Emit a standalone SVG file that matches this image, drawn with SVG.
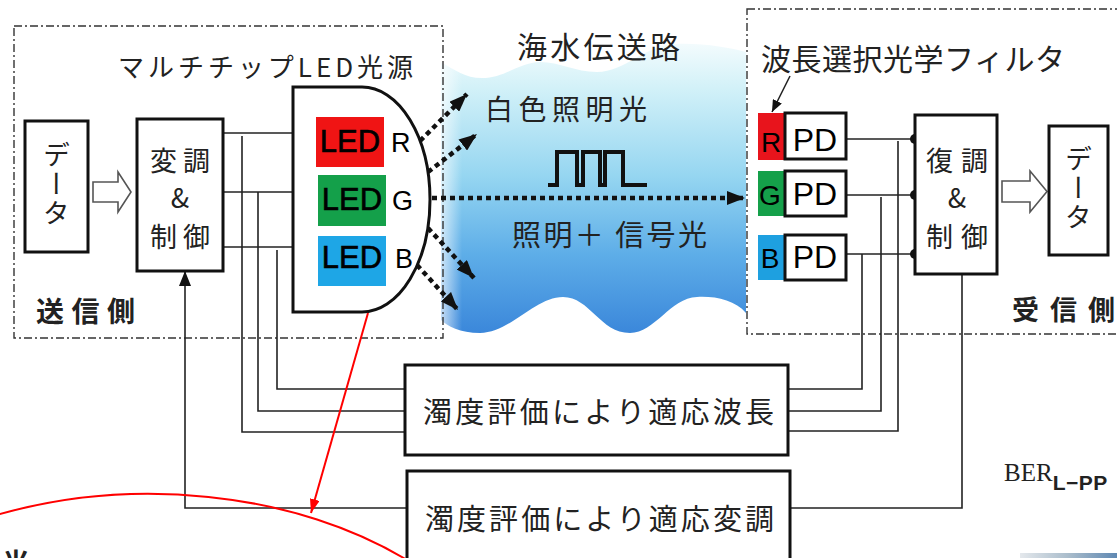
<svg xmlns="http://www.w3.org/2000/svg" width="1117" height="558" viewBox="0 0 1117 558">
  <defs>
    <linearGradient id="seaGrad" x1="0" y1="45" x2="0" y2="335" gradientUnits="userSpaceOnUse">
      <stop offset="0" stop-color="#f2fbfd"/>
      <stop offset="0.15" stop-color="#d2f1f8"/>
      <stop offset="0.45" stop-color="#96d6f1"/>
      <stop offset="0.72" stop-color="#5eaee8"/>
      <stop offset="1" stop-color="#3a86da"/>
    </linearGradient>
    <linearGradient id="edgeHaze" x1="441" y1="0" x2="462" y2="0" gradientUnits="userSpaceOnUse">
      <stop offset="0" stop-color="#ffffff" stop-opacity="0.7"/>
      <stop offset="1" stop-color="#ffffff" stop-opacity="0"/>
    </linearGradient>
    <linearGradient id="stripGrad" x1="1020" y1="0" x2="1117" y2="0" gradientUnits="userSpaceOnUse">
      <stop offset="0" stop-color="#e4e8ec"/>
      <stop offset="0.5" stop-color="#a9bccb"/>
      <stop offset="1" stop-color="#5f88b2"/>
    </linearGradient>
    <marker id="arrowSmall" markerUnits="userSpaceOnUse" markerWidth="12" markerHeight="10" refX="12" refY="5" orient="auto">
      <path d="M0,0 L12,5 L0,10 z" fill="#111"/>
    </marker>
    <marker id="arrowUp" markerUnits="userSpaceOnUse" markerWidth="15" markerHeight="12" refX="15" refY="6" orient="auto">
      <path d="M0,0 L15,6 L0,12 z" fill="#111"/>
    </marker>
    <marker id="arrowBeam" markerUnits="userSpaceOnUse" markerWidth="18" markerHeight="14" refX="18" refY="7" orient="auto">
      <path d="M0,0 L18,7 L0,14 z" fill="#111"/>
    </marker>
    <marker id="arrowRed" markerUnits="userSpaceOnUse" markerWidth="14" markerHeight="10" refX="14" refY="5" orient="auto">
      <path d="M0,0 L14,5 L0,10 z" fill="#ff0000"/>
    </marker>
  </defs>
  <style>
    .frame{fill:none;stroke:#333;stroke-width:1.4;stroke-dasharray:8 3 2 3}
    .box{fill:#fff;stroke:#111;stroke-width:3}
    .wire{fill:none;stroke:#222;stroke-width:1.6}
    .beam{fill:none;stroke:#111;stroke-width:4.5;stroke-dasharray:5 4}
    .hollow{fill:#fff;stroke:#555;stroke-width:1.6;stroke-linejoin:miter}
    .jp{font-family:"Noto Sans CJK JP","Noto Sans CJK SC",sans-serif;fill:#222}
    .lat{font-family:"Liberation Sans",Arial,sans-serif;fill:#000}
    .led{stroke:#000;stroke-width:0.6}
    .bold{font-weight:bold}
    .vert{writing-mode:vertical-rl}
  </style>

  <!-- seawater channel -->
  <g id="sea">
    <path d="M441,62 C455,70 465,78 482,78 C505,78 520,62 540,62 C560,62 575,72 597,72 C625,72 645,45 675,44 C705,43 730,48 746,52 L746,313 C735,300 715,296 697,297 C670,298 655,333 630,333 C600,333 590,297 563,297 C535,297 510,333 480,333 C460,333 447,326 441,320 Z" fill="url(#seaGrad)"/>
    <rect x="441" y="50" width="22" height="285" fill="url(#edgeHaze)"/>
    <text class="jp" x="517" y="58" font-size="30" textLength="163">海水伝送路</text>
    <text class="jp" x="485" y="120" font-size="28" textLength="162">白色照明光</text>
    <text class="jp" x="512" y="246" font-size="29" textLength="195">照明＋ 信号光</text>
    <polyline points="548,185 557,185 557,152 577,152 577,185 583,185 583,152 600,152 600,185 605,185 605,152 623,152 623,185 647,185" fill="none" stroke="#111" stroke-width="4"/>
  </g>

  <!-- transmitter / receiver frames -->
  <g id="tx-frame">
    <rect class="frame" x="14" y="26" width="429" height="312"/>
    <text class="jp bold" x="36" y="322" font-size="28" textLength="99">送信側</text>
    <text class="jp" x="118" y="77" font-size="26" textLength="295">マルチチップLED光源</text>
  </g>
  <g id="rx-frame">
    <rect class="frame" x="747" y="9" width="390" height="325"/>
    <text class="jp bold" x="1012" y="320" font-size="27" textLength="103">受信側</text>
    <text class="jp" x="761" y="70" font-size="30" textLength="304">波長選択光学フィルタ</text>
  </g>

  <!-- connectors -->
  <g id="connectors">
    <path class="wire" d="M223,133 H316" marker-end="url(#arrowSmall)"/>
    <path class="wire" d="M223,192 H316" marker-end="url(#arrowSmall)"/>
    <path class="wire" d="M223,247 H316" marker-end="url(#arrowSmall)"/>
    <path class="wire" d="M242,136 V432 H405"/>
    <path class="wire" d="M258,192 V411 H405"/>
    <path class="wire" d="M277,250 V389 H405"/>
    <path class="wire" d="M407,508 H185 V271" marker-end="url(#arrowUp)"/>
    <path class="wire" d="M846,139 H915"/>
    <path class="wire" d="M846,195 H915"/>
    <path class="wire" d="M846,254 H915"/>
    <path class="wire" d="M898,141 V431 H788"/>
    <path class="wire" d="M881,197 V411 H788"/>
    <path class="wire" d="M862,254 V389 H788"/>
    <path class="wire" d="M962,274 V508 H790"/>
    <circle cx="915" cy="139" r="5" fill="#111"/>
    <circle cx="915" cy="195" r="5" fill="#111"/>
    <circle cx="915" cy="254" r="5" fill="#111"/>
    <path class="wire" d="M790,76 L772,112" marker-end="url(#arrowSmall)"/>
    <polygon class="hollow" points="93,182 118,182 118,172 131,192 118,212 118,202 93,202"/>
    <polygon class="hollow" points="1002,181 1030,181 1030,171 1047,191.5 1030,212 1030,202 1002,202"/>
    <!-- light beams -->
    <path class="beam" d="M420,141 L467,94" marker-end="url(#arrowBeam)"/>
    <path class="beam" d="M428,172 L477,134" marker-end="url(#arrowBeam)"/>
    <path class="beam" d="M432,198 L745,198" marker-end="url(#arrowBeam)"/>
    <path class="beam" d="M428,228 L474,278" marker-end="url(#arrowBeam)"/>
    <path class="beam" d="M417,265 L458,310" marker-end="url(#arrowBeam)"/>
  </g>

  <!-- data source -->
  <g id="data-in">
    <rect class="box" x="25" y="121" width="63" height="131"/>
    <text class="jp vert" x="56.5" y="141" font-size="27" letter-spacing="2">データ</text>
  </g>

  <!-- modulation & control -->
  <g id="modulator">
    <rect class="box" x="137" y="119" width="86" height="152"/>
    <text class="jp" x="150" y="171" font-size="27" textLength="60">変調</text>
    <text class="jp" x="180" y="208" font-size="27" text-anchor="middle">&amp;</text>
    <text class="jp" x="150" y="247" font-size="27" textLength="60">制御</text>
  </g>

  <!-- multi-chip LED source -->
  <g id="led-source">
    <path d="M293,87 H362 A68,112.5 0 0 1 362,312 H293 Z" fill="#fff" stroke="#111" stroke-width="3"/>
    <g id="led-r">
      <rect x="316" y="117" width="68" height="50" fill="#f01414"/>
      <text class="lat led" x="350" y="152" font-size="31" text-anchor="middle">LED</text>
      <text class="lat" x="391" y="152" font-size="27">R</text>
    </g>
    <g id="led-g">
      <rect x="318" y="175" width="68" height="51" fill="#14a04a"/>
      <text class="lat led" x="352" y="210" font-size="31" text-anchor="middle">LED</text>
      <text class="lat" x="392" y="210" font-size="27">G</text>
    </g>
    <g id="led-b">
      <rect x="318" y="236" width="68" height="50" fill="#1ea6e6"/>
      <text class="lat led" x="352" y="268" font-size="31" text-anchor="middle">LED</text>
      <text class="lat" x="395" y="268" font-size="27">B</text>
    </g>
  </g>

  <!-- photodiodes with colour filters -->
  <g id="pd-r">
    <rect x="758" y="113" width="27" height="47" fill="#e8141c"/>
    <text class="lat" x="771" y="152" font-size="28" text-anchor="middle" fill="#3a0000">R</text>
    <rect class="box" x="785" y="113" width="61" height="46"/>
    <text class="lat" x="815" y="151" font-size="32" text-anchor="middle">PD</text>
  </g>
  <g id="pd-g">
    <rect x="758" y="171" width="27" height="45" fill="#15a04a"/>
    <text class="lat" x="770" y="205" font-size="28" text-anchor="middle" fill="#002a10">G</text>
    <rect class="box" x="785" y="171" width="61" height="45"/>
    <text class="lat" x="815" y="205" font-size="32" text-anchor="middle">PD</text>
  </g>
  <g id="pd-b">
    <rect x="758" y="235" width="27" height="45" fill="#1ea0e0"/>
    <text class="lat" x="770" y="268" font-size="28" text-anchor="middle" fill="#001a40">B</text>
    <rect class="box" x="785" y="235" width="61" height="45"/>
    <text class="lat" x="815" y="268" font-size="32" text-anchor="middle">PD</text>
  </g>

  <!-- demodulation & control -->
  <g id="demodulator">
    <rect class="box" x="915" y="115" width="82" height="159"/>
    <text class="jp" x="926" y="171" font-size="27" textLength="62">復調</text>
    <text class="jp" x="957" y="208" font-size="27" text-anchor="middle">&amp;</text>
    <text class="jp" x="926" y="247" font-size="27" textLength="62">制御</text>
  </g>

  <!-- data sink -->
  <g id="data-out">
    <rect class="box" x="1049" y="126" width="59" height="129"/>
    <text class="jp vert" x="1078.5" y="145" font-size="27" letter-spacing="2">データ</text>
  </g>

  <!-- turbidity evaluation blocks -->
  <g id="eval-wavelength">
    <rect class="box" x="405" y="365" width="383" height="90"/>
    <text class="jp" x="423" y="423" font-size="29" textLength="351">濁度評価により適応波長</text>
  </g>
  <g id="eval-modulation">
    <rect class="box" x="407" y="471" width="383" height="100"/>
    <text class="jp" x="425" y="530" font-size="29" textLength="349">濁度評価により適応変調</text>
  </g>

  <!-- callout -->
  <g id="callout">
    <path d="M368,313 L311,513" fill="none" stroke="#ff0000" stroke-width="2" marker-end="url(#arrowRed)"/>
    <path d="M-10,517 A380,250 0 0 1 407,560" fill="none" stroke="#ff0000" stroke-width="2"/>
    <text class="jp bold" x="2" y="574" font-size="28">光</text>
  </g>

  <!-- formula fragment -->
  <g id="ber">
    <text x="1004" y="481" font-family="Liberation Serif, serif" font-size="25" fill="#222">BER<tspan font-size="21" dy="9" font-weight="bold" font-family="Liberation Sans, sans-serif" letter-spacing="0.5">L−PP</tspan></text>
  </g>
  <rect x="1020" y="553" width="97" height="5" fill="url(#stripGrad)"/>
</svg>
